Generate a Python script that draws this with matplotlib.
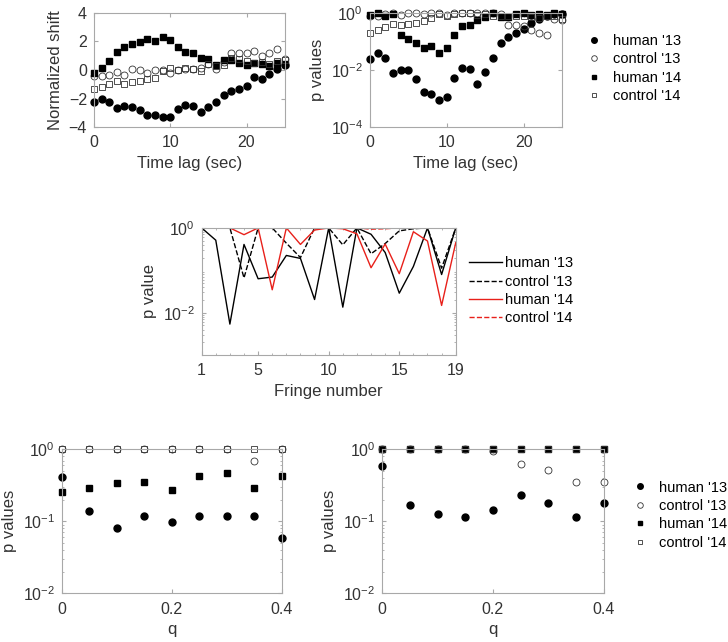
import numpy as np
import matplotlib.pyplot as plt

plt.rcParams['font.family'] = ['Liberation Sans', 'DejaVu Sans']
plt.rcParams['font.size'] = 11
plt.rcParams['mathtext.fontset'] = 'custom'
plt.rcParams['mathtext.rm'] = 'Liberation Sans'

# ---- top row: time lag data ----
lag = np.arange(26)
shift_h13 = [-2.21, -2.02, -2.21, -2.63, -2.53, -2.58, -2.79, -3.12, -3.14, -3.28, -3.26, -2.72, -2.47,
             -2.51, -2.91, -2.58, -2.21, -1.74, -1.44, -1.30, -1.12, -0.47, -0.6, -0.25, 0.1, 0.35]
shift_c13 = [-0.42, -0.42, -0.37, -0.14, -0.33, 0.05, 0.02, -0.21, 0.02, 0.02, -0.19, 0.0, 0.07,
             0.05, 0.14, 0.44, 0.05, 0.53, 1.21, 1.21, 1.21, 1.33, 1.0, 1.2, 1.5, 0.75]
shift_h14 = [-0.23, 0.16, 0.63, 1.23, 1.58, 1.79, 1.93, 2.14, 2.02, 2.33, 2.09, 1.60, 1.23,
             1.19, 0.86, 0.74, 0.33, 0.70, 0.70, 0.47, 0.37, 0.47, 0.45, 0.3, 0.5, 0.45]
shift_c14 = [-1.30, -1.16, -1.0, -0.74, -0.95, -0.86, -0.74, -0.65, -0.56, -0.09, 0.12, 0.0, 0.16,
             0.09, -0.07, 0.40, 0.28, 0.35, 0.86, 0.74, 0.63, 0.51, 0.55, 0.4, 0.6, 0.7]

logp_h13 = [-1.62, -1.40, -1.57, -2.09, -1.99, -1.99, -2.33, -2.78, -2.83, -3.06, -2.94, -2.28, -1.92,
            -1.97, -2.48, -2.06, -1.59, -1.07, -0.84, -0.72, -0.57, -0.35, -0.2, -0.12, -0.05, -0.05]
logp_c13 = [-0.12, -0.1, -0.04, 0.0, -0.08, 0.0, 0.0, -0.05, 0.0, 0.0, -0.06, 0.0, 0.0,
            0.0, 0.0, -0.02, 0.0, -0.05, -0.43, -0.43, -0.47, -0.6, -0.72, -0.78, -0.2, -0.25]
logp_h14 = [-0.07, 0.0, -0.1, -0.05, -0.76, -0.92, -1.05, -1.24, -1.15, -1.42, -1.22, -0.76, -0.47,
            -0.43, -0.26, -0.14, 0.0, -0.16, -0.14, -0.05, -0.02, -0.08, -0.05, -0.08, 0.0, -0.05]
logp_c14 = [-0.72, -0.6, -0.5, -0.38, -0.43, -0.4, -0.35, -0.28, -0.17, -0.03, -0.1, -0.05, -0.02,
            -0.02, -0.06, -0.05, -0.1, -0.1, -0.12, -0.12, -0.1, -0.15, -0.18, -0.1, -0.12, -0.2]

# ---- middle: fringe p values (log10) ----
fringe = np.arange(1, 20)
fr_h13 = [0, -0.29, -2.27, -0.39, -1.20, -1.16, -0.65, -0.72, -1.69, 0, -1.87, 0, -0.15, -0.58,
          -1.54, -0.91, 0, -1.1, 0]
fr_c13 = [0, 0, 0, -1.18, 0, 0, -0.36, -0.70, 0, 0, -0.40, 0, -0.61, -0.37, -0.07, -0.02, 0, -0.95, 0]
fr_h14 = [0, 0, 0, -0.16, 0, -1.46, 0, -0.39, -0.05, 0, -0.02, -0.14, -0.94, -0.38, -1.08, -0.09,
          -0.31, -1.83, -0.35]
fr_c14 = [0, 0, 0, 0, 0, 0, 0, 0, 0, 0, 0, 0, -0.03, -0.02, 0, 0, 0, 0, 0]

# ---- bottom: q p values (log10) ----
q = np.arange(9) * 0.05
qa_h13 = [-0.38, -0.86, -1.10, -0.93, -1.01, -0.93, -0.93, -0.93, -1.23]
qa_c13 = [0, 0, 0, 0, 0, 0, 0, -0.16, 0]
qa_h14 = [-0.59, -0.54, -0.47, -0.45, -0.56, -0.37, -0.33, -0.54, -0.37]
qa_c14 = [0, 0, 0, 0, 0, 0, 0, 0, 0]
qb_h13 = [-0.23, -0.78, -0.90, -0.94, -0.84, -0.64, -0.75, -0.94, -0.75]
qb_c13 = [0, 0, 0, 0, -0.02, -0.20, -0.29, -0.46, -0.46]
qb_h14 = [0, 0, 0, 0, 0, 0, 0, 0, 0]
qb_c14 = [0, 0, 0, 0, 0, 0, 0, 0, 0]
qticks = [0, 0.2, 0.4]
qticklabels = ['0', '0.2', '0.4']
labels = ["human '13", "control '13", "human '14", "control '14"]

gray = '#a8a8a8'
txt = '#333333'


def style(ax):
    for s in ax.spines.values():
        s.set_color(gray)
        s.set_linewidth(0.8)
    ax.tick_params(which='both', direction='in', colors=gray, labelcolor=txt, top=True, right=True,
                   labelsize=11.5)
    ax.tick_params(which='major', length=3)
    ax.tick_params(which='minor', length=1.5)
    ax.tick_params(axis='x', pad=6)
    ax.tick_params(axis='y', pad=5)


def scatter4(ax, x, a, b, c, d, ms=5, mss=4):
    ax.plot(x, a, 'o', color='k', ms=ms, clip_on=False, label=labels[0])
    ax.plot(x, b, 'o', mfc='none', mec='#333333', mew=0.6, ms=ms, clip_on=False, label=labels[1])
    ax.plot(x, c, 's', color='k', ms=mss, clip_on=False, label=labels[2])
    ax.plot(x, d, 's', mfc='none', mec='#333333', mew=0.6, ms=mss, clip_on=False, label=labels[3])


fig = plt.figure(figsize=(7.28, 6.42), dpi=100)

# top left
ax1 = fig.add_axes([0.129, 0.802, 0.262, 0.178])
scatter4(ax1, lag, shift_h13, shift_c13, shift_h14, shift_c14)
ax1.set_xlim(0, 25)
ax1.set_ylim(-4, 4)
ax1.set_xticks([0, 10, 20])
ax1.set_yticks([-4, -2, 0, 2, 4])
ax1.set_xlabel('Time lag (sec)', color=txt, fontsize=12)
ax1.set_ylabel('Normalized shift', color=txt, fontsize=12)
style(ax1)

# top right
ax2 = fig.add_axes([0.508, 0.802, 0.264, 0.178])
scatter4(ax2, lag, 10 ** np.array(logp_h13), 10 ** np.array(logp_c13),
         10 ** np.array(logp_h14), 10 ** np.array(logp_c14))
ax2.set_yscale('log')
ax2.set_xlim(0, 25)
ax2.set_ylim(1e-4, 1)
ax2.set_xticks([0, 10, 20])
ax2.set_yticks([1e-4, 1e-2, 1])
ax2.set_xlabel('Time lag (sec)', color=txt, fontsize=12)
ax2.set_ylabel('p values', color=txt, fontsize=12)
style(ax2)
ax2.legend(loc='upper left', bbox_to_anchor=(1.02, 0.93), frameon=False, fontsize=10.5,
           handletextpad=0.3, labelspacing=0.3, markerscale=0.8)

# middle
ax3 = fig.add_axes([0.277, 0.447, 0.349, 0.198])
ax3.plot(fringe, 10 ** np.array(fr_h13), '-', color='k', lw=1, label=labels[0])
ax3.plot(fringe, 10 ** np.array(fr_c13), '--', color='k', lw=1, label=labels[1])
ax3.plot(fringe, 10 ** np.array(fr_h14), '-', color='#e8201a', lw=1, label=labels[2])
ax3.plot(fringe, 10 ** np.array(fr_c14), '--', color='#e8201a', lw=1, label=labels[3])
ax3.set_yscale('log')
ax3.set_xlim(1, 19)
ax3.set_ylim(1e-3, 1)
ax3.set_xticks([1, 5, 10, 15, 19])
ax3.set_xticks(fringe, minor=True)
ax3.set_yticks([1e-2, 1])
ax3.set_xlabel('Fringe number', color=txt, fontsize=12)
ax3.set_ylabel('p value', color=txt, fontsize=12)
style(ax3)
ax3.legend(loc='upper left', bbox_to_anchor=(1.0, 0.88), frameon=False, fontsize=10.5,
           handlelength=2.3, handletextpad=0.2, labelspacing=0.3)

# bottom left
ax4 = fig.add_axes([0.085, 0.076, 0.302, 0.224])
scatter4(ax4, q, 10 ** np.array(qa_h13), 10 ** np.array(qa_c13),
         10 ** np.array(qa_h14), 10 ** np.array(qa_c14), ms=5, mss=4)
ax4.set_yscale('log')
ax4.set_xlim(0, 0.4)
ax4.set_ylim(1e-2, 1)
ax4.set_xticks(qticks)
ax4.set_xticklabels(qticklabels)
ax4.set_xlabel('q', color=txt, fontsize=12)
ax4.set_ylabel('p values', color=txt, fontsize=12)
style(ax4)

# bottom right
ax5 = fig.add_axes([0.525, 0.076, 0.304, 0.224])
scatter4(ax5, q, 10 ** np.array(qb_h13), 10 ** np.array(qb_c13),
         10 ** np.array(qb_h14), 10 ** np.array(qb_c14), ms=5, mss=4)
ax5.set_yscale('log')
ax5.set_xlim(0, 0.4)
ax5.set_ylim(1e-2, 1)
ax5.set_xticks(qticks)
ax5.set_xticklabels(qticklabels)
ax5.set_xlabel('q', color=txt, fontsize=12)
ax5.set_ylabel('p values', color=txt, fontsize=12)
style(ax5)
ax5.legend(loc='upper left', bbox_to_anchor=(1.04, 0.875), frameon=False, fontsize=10.5,
           handletextpad=0.3, labelspacing=0.3, markerscale=0.8)

fig.savefig('out.png', dpi=100)
